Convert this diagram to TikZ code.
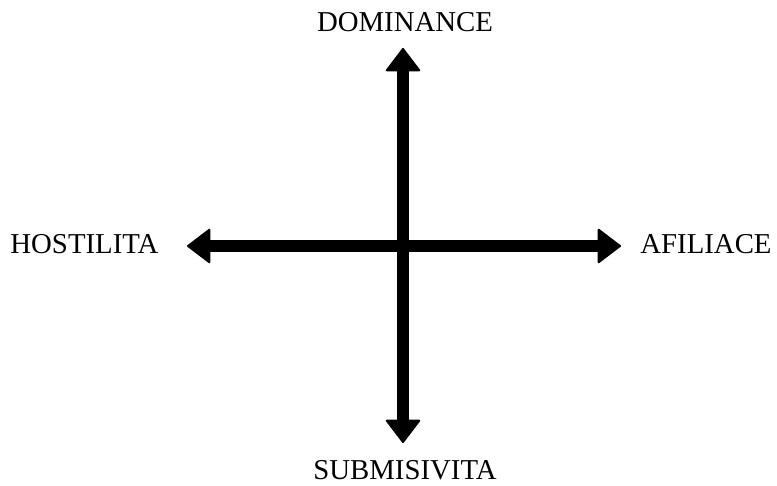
\documentclass[tikz,border=0pt]{standalone}
\usepackage{fontspec}
\setmainfont{Liberation Serif}
\usetikzlibrary{arrows.meta, positioning}

\begin{document}
\begin{tikzpicture}[x=0.5pt, y=-0.5pt,
  axis/.style={{Triangle[length=12pt, width=18pt, round, line width=1pt]}-{Triangle[length=12pt, width=18pt, round, line width=1pt]}, line width=6pt, black},
  lbl/.style={font=\fontsize{14.4}{17}\selectfont, inner sep=0pt}]
\useasboundingbox (0,0) rectangle (777,486);
\coordinate (top) at (403, 48);
\coordinate (bot) at (403, 443);
\coordinate (lft) at (187, 246);
\coordinate (rgt) at (621, 246);
\node[lbl] (dom) at (405, 22) {DOMINANCE};
\node[lbl] (sub) at (405, 470) {SUBMISIVITA};
\node[lbl, anchor=west] (hos) at (10, 244) {HOSTILITA};
\node[lbl, anchor=west] (afi) at (640, 244) {AFILIACE};
\draw[axis] (bot) -- (top);
\draw[axis] (lft) -- (rgt);
\end{tikzpicture}
\end{document}
